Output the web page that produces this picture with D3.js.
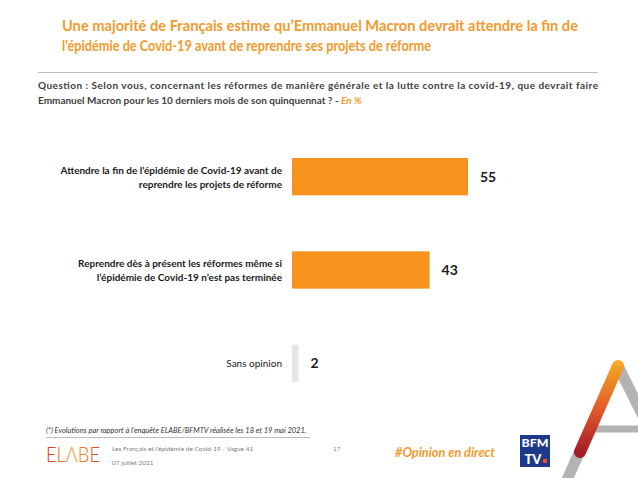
<!DOCTYPE html>
<html>
<head>
<meta charset="utf-8">
<script src="https://cdn.jsdelivr.net/npm/d3@7"></script>
<style>
  body { margin: 0; background: #fff; }
  svg { display: block; font-family: Lato, "Open Sans", sans-serif; }
</style>
</head>
<body>
<div id="chart"></div>
<script>
// Chart data
const categories = [
    ["Attendre la fin de l’épidémie de Covid-19 avant de", "reprendre les projets de réforme"],
    ["Reprendre dès à présent les réformes même si", "l’épidémie de Covid-19 n’est pas terminée"],
    ["Sans opinion"]
];
const values = [55, 43, 2];
const barColors = ["#F7941D", "#F7941D", "#E6E6E6"];
const titleLines = [
    "Une majorité de Français estime qu’Emmanuel Macron devrait attendre la fin de",
    "l'épidémie de Covid-19 avant de reprendre ses projets de réforme"
];

const W = 638, H = 478;
const orange = "#F39A2E";

const svg = d3.select("#chart").append("svg")
    .attr("width", W)
    .attr("height", H);

const defs = svg.append("defs");
const gA = defs.append("linearGradient").attr("id", "gradA")
    .attr("x1", 0).attr("y1", 0).attr("x2", 0).attr("y2", 1);
gA.append("stop").attr("offset", "0%").attr("stop-color", "#F7A21B");
gA.append("stop").attr("offset", "50%").attr("stop-color", "#E8531F");
gA.append("stop").attr("offset", "100%").attr("stop-color", "#A3101E");
const gE = defs.append("linearGradient").attr("id", "gradE")
    .attr("x1", 0).attr("y1", 0).attr("x2", 1).attr("y2", 0);
gE.append("stop").attr("offset", "0%").attr("stop-color", "#D9301E");
gE.append("stop").attr("offset", "50%").attr("stop-color", "#F29A1E");
gE.append("stop").attr("offset", "100%").attr("stop-color", "#D8401E");

// Title
svg.append("g").selectAll("text")
    .data(titleLines)
    .join("text")
    .attr("x", 62)
    .attr("y", (d, i) => 31 + i * 19.5)
    .attr("fill", orange)
    .style("font-size", "15.5px")
    .style("font-weight", "bold")
    .attr("textLength", (d, i) => i === 0 ? 516 : 369)
    .attr("lengthAdjust", "spacingAndGlyphs")
    .text(d => d);

// Separator under title
svg.append("line")
    .attr("x1", 38).attr("x2", 598)
    .attr("y1", 72.5).attr("y2", 72.5)
    .attr("stroke", "#bdbdbd").attr("stroke-width", 1.2);

// Question
svg.append("text")
    .attr("x", 38).attr("y", 89)
    .attr("fill", "#404040")
    .style("font-size", "10px")
    .style("font-weight", "bold")
    .attr("textLength", 560)
    .attr("lengthAdjust", "spacing")
    .text("Question : Selon vous, concernant les réformes de manière générale et la lutte contre la covid-19, que devrait faire");
const q2 = svg.append("text")
    .attr("x", 38).attr("y", 104)
    .attr("fill", "#404040")
    .style("font-size", "10px")
    .style("font-weight", "bold");
q2.append("tspan").text("Emmanuel Macron pour les 10 derniers mois de son quinquennat ? - ");
q2.append("tspan").attr("fill", orange).style("font-style", "italic").text("En %");

// Scales
const x = d3.scaleLinear().domain([0, 100]).range([292, 612]);
const y = d3.scaleBand()
    .domain(d3.range(values.length))
    .range([130, 410])
    .paddingInner(0.6)
    .paddingOuter(0.3);

const bars = svg.append("g");
bars.selectAll("rect")
    .data(values)
    .join("rect")
    .attr("x", x(0))
    .attr("y", (d, i) => y(i))
    .attr("width", d => x(d) - x(0))
    .attr("height", y.bandwidth())
    .attr("fill", (d, i) => barColors[i]);

// Value labels
bars.selectAll(".val")
    .data(values)
    .join("text")
    .attr("class", "val")
    .attr("x", d => x(d) + 12)
    .attr("y", (d, i) => y(i) + y.bandwidth() / 2 + 5)
    .attr("fill", "#1a1a1a")
    .style("font-size", "14px")
    .style("font-weight", "bold")
    .text(d => d);

// Category labels
const labels = svg.append("g");
categories.forEach((lines, i) => {
    const cy = y(i) + y.bandwidth() / 2;
    const t = labels.append("text")
        .attr("x", 282)
        .attr("text-anchor", "end")
        .attr("fill", "#1a1a1a")
        .style("font-size", "10px")
        .style("font-weight", lines.length > 1 ? "bold" : "normal");
    lines.forEach((l, j) => {
        t.append("tspan")
            .attr("x", 282)
            .attr("y", cy + 4 + (j - (lines.length - 1) / 2) * 14)
            .text(l);
    });
});

// Footnote
svg.append("text")
    .attr("x", 46).attr("y", 433)
    .attr("fill", "#333")
    .style("font-size", "7.5px")
    .style("font-style", "italic")
    .text("(*) Evolutions par rapport à l’enquête ELABE/BFMTV réalisée les 18 et 19 mai 2021.");
svg.append("line")
    .attr("x1", 46).attr("x2", 310)
    .attr("y1", 437.5).attr("y2", 437.5)
    .attr("stroke", "#bdbdbd").attr("stroke-width", 1);

// ELABE logo
svg.append("text")
    .attr("x", 46).attr("y", 462)
    .attr("fill", "url(#gradE)")
    .style("font-size", "21px")
    .style("font-weight", "300")
    .attr("textLength", 54)
    .attr("lengthAdjust", "spacingAndGlyphs")
    .text("ELΛBE");

// Footer texts
svg.append("text")
    .attr("x", 112).attr("y", 451)
    .attr("fill", "#7f7f7f")
    .style("font-size", "6.5px")
    .text("Les Français et l’épidémie de Covid-19 - Vague 41");
svg.append("text")
    .attr("x", 112).attr("y", 465)
    .attr("fill", "#7f7f7f")
    .style("font-size", "6.5px")
    .text("07 juillet 2021");
svg.append("text")
    .attr("x", 333).attr("y", 451)
    .attr("fill", "#7f7f7f")
    .style("font-size", "6.5px")
    .text("17");
svg.append("text")
    .attr("x", 395).attr("y", 457)
    .attr("fill", orange)
    .style("font-size", "13px")
    .style("font-weight", "bold")
    .style("font-style", "italic")
    .attr("textLength", 100)
    .attr("lengthAdjust", "spacingAndGlyphs")
    .text("#Opinion en direct");

// BFM TV logo
const bfm = svg.append("g").attr("transform", "translate(520,435)");
bfm.append("rect").attr("width", 30).attr("height", 32).attr("fill", "#1D3A8A");
bfm.append("text").attr("x", 15).attr("y", 12).attr("text-anchor", "middle")
    .attr("fill", "#fff").style("font-size", "11px").style("font-weight", "900")
    .attr("textLength", 27).attr("lengthAdjust", "spacingAndGlyphs").text("BFM");
bfm.append("text").attr("x", 13).attr("y", 29).attr("text-anchor", "middle")
    .attr("fill", "#fff").style("font-size", "13px").style("font-weight", "900")
    .text("TV");
bfm.append("rect").attr("x", 23).attr("y", 24).attr("width", 4).attr("height", 4).attr("fill", "#E8521E");

// Decorative "A"
const deco = svg.append("g");
deco.append("line")
    .attr("x1", 618).attr("y1", 366).attr("x2", 566).attr("y2", 482)
    .attr("stroke", "#a6a6a6").attr("stroke-width", 11).attr("opacity", 0.85);
deco.append("line")
    .attr("x1", 618).attr("y1", 366).attr("x2", 645).attr("y2", 420)
    .attr("stroke", "#a6a6a6").attr("stroke-width", 11).attr("opacity", 0.85);
deco.append("line")
    .attr("x1", 586).attr("y1", 429).attr("x2", 640).attr("y2", 429)
    .attr("stroke", "#a6a6a6").attr("stroke-width", 7).attr("opacity", 0.85);
deco.append("line")
    .attr("x1", 618).attr("y1", 366).attr("x2", 580).attr("y2", 452)
    .attr("stroke", "url(#gradA)").attr("stroke-width", 12)
    .attr("stroke-linecap", "round").attr("opacity", 0.92);
</script>
</body>
</html>
